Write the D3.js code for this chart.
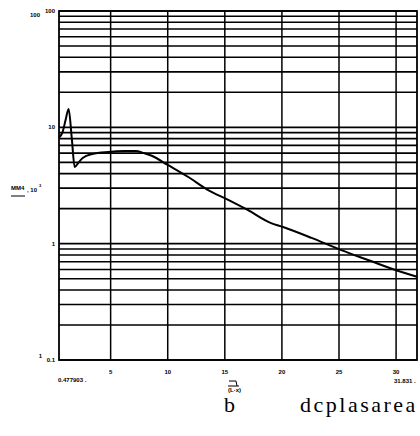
<!DOCTYPE html>
<html>
<head>
<meta charset="utf-8">
<script src="https://cdn.jsdelivr.net/npm/d3@7"></script>
<style>
  body { margin: 0; background: #fff; }
  svg { display: block; }
  .tk { font-family: "Liberation Sans", sans-serif; font-weight: bold; font-size: 6px; fill: #000; }
</style>
</head>
<body>
<div id="wrapper"></div>
<script>
// x domain limits printed under the axis
const xMin = 0.477903
const xMax = 31.831
const xTicks = [5, 10, 15, 20, 25, 30]
const yTickLabels = [100, 10, 1, 0.1]

// curve
const curveX = [0.50, 0.79, 1.05, 1.32, 1.6, 1.85, 2.2, 2.55, 3.4, 4.8, 6.2, 7.2, 7.9, 8.6, 10.0, 11.8, 13.5, 15.3, 17.0, 19.0, 20.1, 22.6, 25.2, 27.6, 30.0, 31.83]
const curveY = [8.2, 9.1, 11.5, 14.4, 8.0, 4.56, 5.0, 5.45, 5.9, 6.14, 6.25, 6.26, 6.02, 5.7, 4.75, 3.74, 2.9, 2.38, 1.95, 1.51, 1.39, 1.12, 0.88, 0.72, 0.59, 0.52]

function renderChart (wrapper) {
  const width = 420
  const height = 436
  const left = 59, right = 417, top = 11, bottom = 360

  const svg = d3.select(wrapper).append('svg')
    .attr('width', width).attr('height', height)

  const x = d3.scaleLinear().domain([xMin, xMax]).range([left, right])
  const y = d3.scaleLog().domain([0.1, 100]).range([bottom, top])

  // horizontal log grid
  const gridVals = []
  for (let dec = 0.1; dec < 100; dec *= 10) {
    for (let m = 1; m < 10; m++) gridVals.push(+(dec * m).toPrecision(3))
  }
  gridVals.push(100)
  svg.append('g').selectAll('line').data(gridVals).enter().append('line')
    .attr('x1', left).attr('x2', right)
    .attr('y1', d => y(d)).attr('y2', d => y(d))
    .attr('stroke', '#000').attr('stroke-width', 1.6)

  // vertical grid
  svg.append('g').selectAll('line').data(xTicks).enter().append('line')
    .attr('x1', d => x(d)).attr('x2', d => x(d))
    .attr('y1', top).attr('y2', bottom)
    .attr('stroke', '#000').attr('stroke-width', 1.5)

  // frame
  svg.append('rect').attr('x', left).attr('y', top)
    .attr('width', right - left).attr('height', bottom - top)
    .attr('fill', 'none').attr('stroke', '#000').attr('stroke-width', 1.8)

  // curve
  const pts = curveX.map((d, i) => [d, curveY[i]])
  svg.append('path').datum(pts)
    .attr('d', d3.line().x(d => x(d[0])).y(d => y(d[1])).curve(d3.curveMonotoneX))
    .attr('fill', 'none').attr('stroke', '#000').attr('stroke-width', 2)

  // x tick labels
  svg.append('g').selectAll('text').data(xTicks).enter().append('text')
    .attr('class', 'tk').attr('x', d => x(d)).attr('y', 374)
    .attr('text-anchor', 'middle').text(d => d)
  svg.append('text').attr('class', 'tk').attr('x', 58).attr('y', 382).text(xMin + ' .')
  svg.append('text').attr('class', 'tk').attr('x', 394).attr('y', 383).text(xMax + ' .')

  // y tick labels
  svg.append('g').selectAll('text').data(yTickLabels).enter().append('text')
    .attr('class', 'tk').attr('x', 55).attr('y', d => y(d) + 2)
    .attr('text-anchor', 'end').text(d => d)
  svg.append('text').attr('class', 'tk').attr('x', 40).attr('y', 17)
    .attr('text-anchor', 'end').text(100)
  svg.append('text').attr('class', 'tk').attr('x', 42).attr('y', 358)
    .attr('text-anchor', 'end').text(1)

  // y axis title
  svg.append('text').attr('class', 'tk').attr('x', 11).attr('y', 190).text('MM4')
  svg.append('line').attr('x1', 11).attr('x2', 25).attr('y1', 196).attr('y2', 196)
    .attr('stroke', '#000').attr('stroke-width', 1)
  svg.append('text').attr('class', 'tk').attr('x', 27).attr('y', 192).text(', 10')
  svg.append('text').attr('class', 'tk').attr('x', 39).attr('y', 187)
    .style('font-size', '4px').text('3')

  // x axis title
  svg.append('line').attr('x1', 229).attr('x2', 236).attr('y1', 381).attr('y2', 381)
    .attr('stroke', '#000').attr('stroke-width', 1)
  svg.append('line').attr('x1', 236).attr('x2', 237).attr('y1', 381).attr('y2', 386)
    .attr('stroke', '#000').attr('stroke-width', 1)
  svg.append('line').attr('x1', 228).attr('x2', 239).attr('y1', 386).attr('y2', 386)
    .attr('stroke', '#000').attr('stroke-width', 1)
  svg.append('text').attr('class', 'tk').attr('x', 228).attr('y', 392).text('(L\u00b7x)')

  // caption
  svg.append('text').attr('x', 224).attr('y', 412)
    .style('font-family', '"Liberation Serif", serif').style('font-size', '22px').text('b')
  svg.append('text').attr('x', 300).attr('y', 412)
    .style('font-family', '"Liberation Serif", serif').style('font-size', '22px')
    .style('letter-spacing', '2.5px').text('dcplasarea')
}

renderChart(document.querySelector('#wrapper'))
</script>
</body>
</html>
